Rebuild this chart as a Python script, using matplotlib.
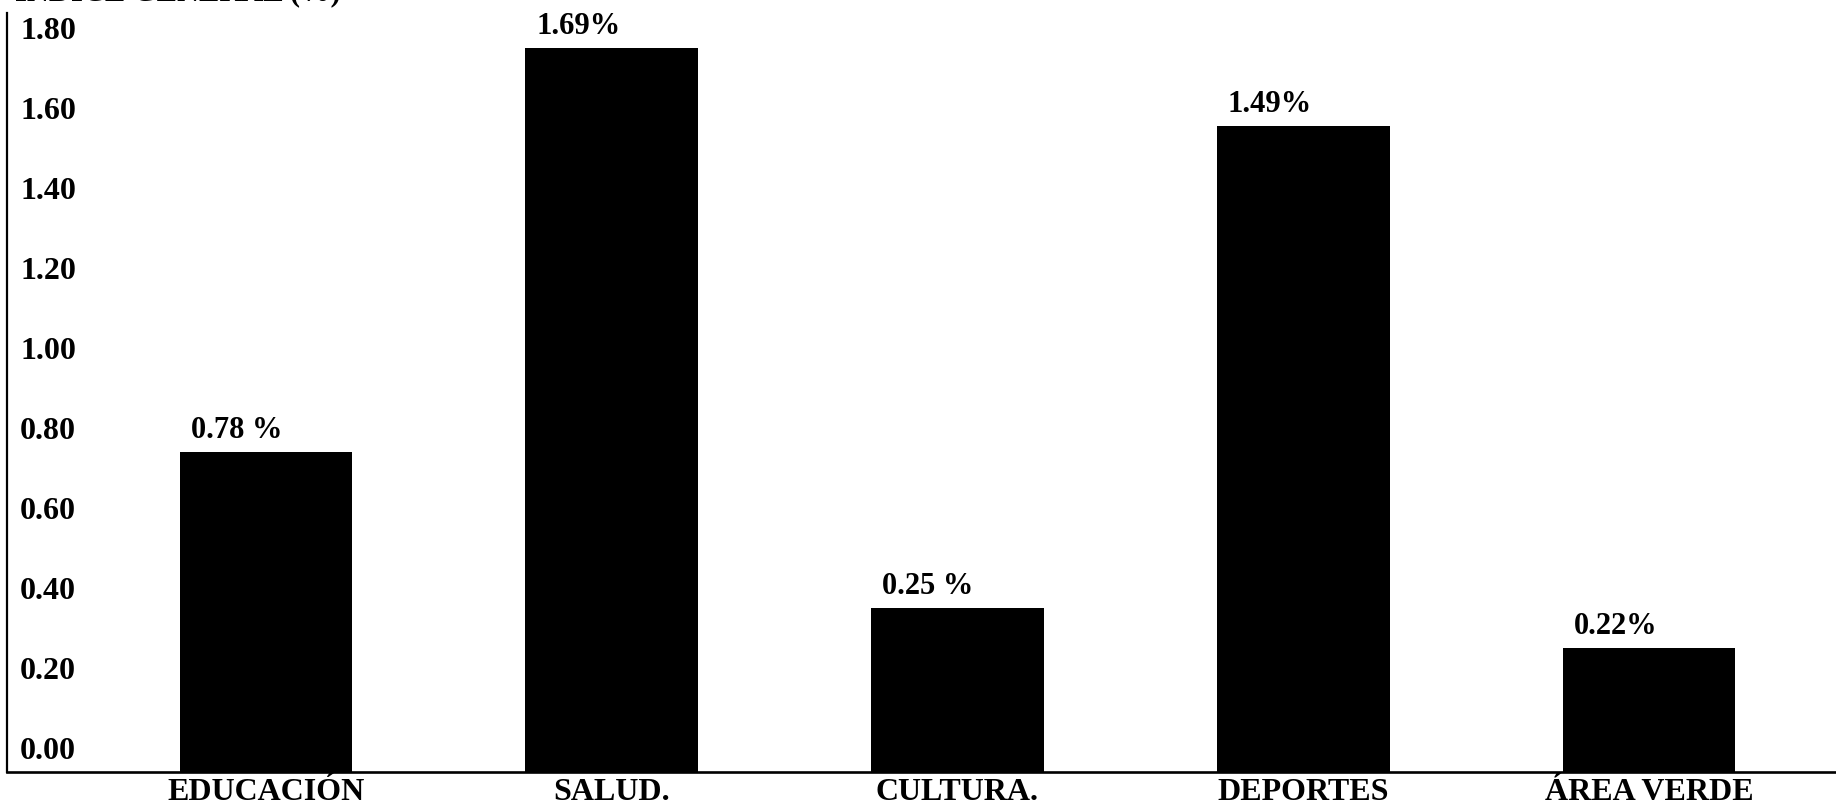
#!/usr/bin/env python3
import matplotlib.pyplot as plt
import matplotlib.transforms as mtransforms

# Datos
categorias = ["EDUCACIÓN", "SALUD.", "CULTURA.", "DEPORTES", "ÁREA VERDE"]
alturas = [0.80, 1.81, 0.41, 1.615, 0.31]
etiquetas = ["0.78 %", "1.69%", "0.25 %", "1.49%", "0.22%"]
ticks_y = [0.0, 0.2, 0.4, 0.6, 0.8, 1.0, 1.2, 1.4, 1.6, 1.8]

plt.rcParams['font.family'] = ['Liberation Serif', 'DejaVu Serif']
plt.rcParams['font.weight'] = 'bold'

fig = plt.figure(figsize=(18.36, 8.02), dpi=100)
ax = fig.add_axes([7 / 1836, 30 / 802, 1829 / 1836, 759 / 802])

x = list(range(len(categorias)))
barras = ax.bar(x, alturas, width=0.5, color='black')

ax.set_xlim(-0.749, 4.541)
ax.set_ylim(0, 1.8975)

# etiquetas de valor encima de cada barra
for b, txt in zip(barras, etiquetas):
    ax.annotate(txt, xy=(b.get_x(), b.get_height()), xytext=(11, 21),
                textcoords='offset pixels', ha='left', va='center',
                fontsize=22, fontweight='bold')

ax.spines['top'].set_visible(False)
ax.spines['right'].set_visible(False)
ax.spines['left'].set_linewidth(1.6)
ax.spines['bottom'].set_linewidth(1.9)

ax.set_xticks(x, categorias)
ax.tick_params(axis='x', length=0, pad=20, labelsize=23)
for lbl in ax.get_xticklabels():
    lbl.set_verticalalignment('baseline')
    lbl.set_fontweight('bold')

ax.set_yticks(ticks_y, [f"{t:.2f}" for t in ticks_y])
ax.tick_params(axis='y', length=0, pad=-9.5, labelsize=23)
subir = mtransforms.ScaledTranslation(0, 24 / 100, fig.dpi_scale_trans)
for lbl in ax.get_yticklabels():
    lbl.set_horizontalalignment('left')
    lbl.set_fontweight('bold')
    lbl.set_transform(lbl.get_transform() + subir)

# titulo cortado en el borde superior (en el original solo se ve el pie de las letras)
fig.text(15 / 1836, 801 / 802, "ÍNDICE GENERAL (%)", fontsize=22,
         fontweight='bold', ha='left', va='baseline')

fig.savefig("out.png", dpi=100)
